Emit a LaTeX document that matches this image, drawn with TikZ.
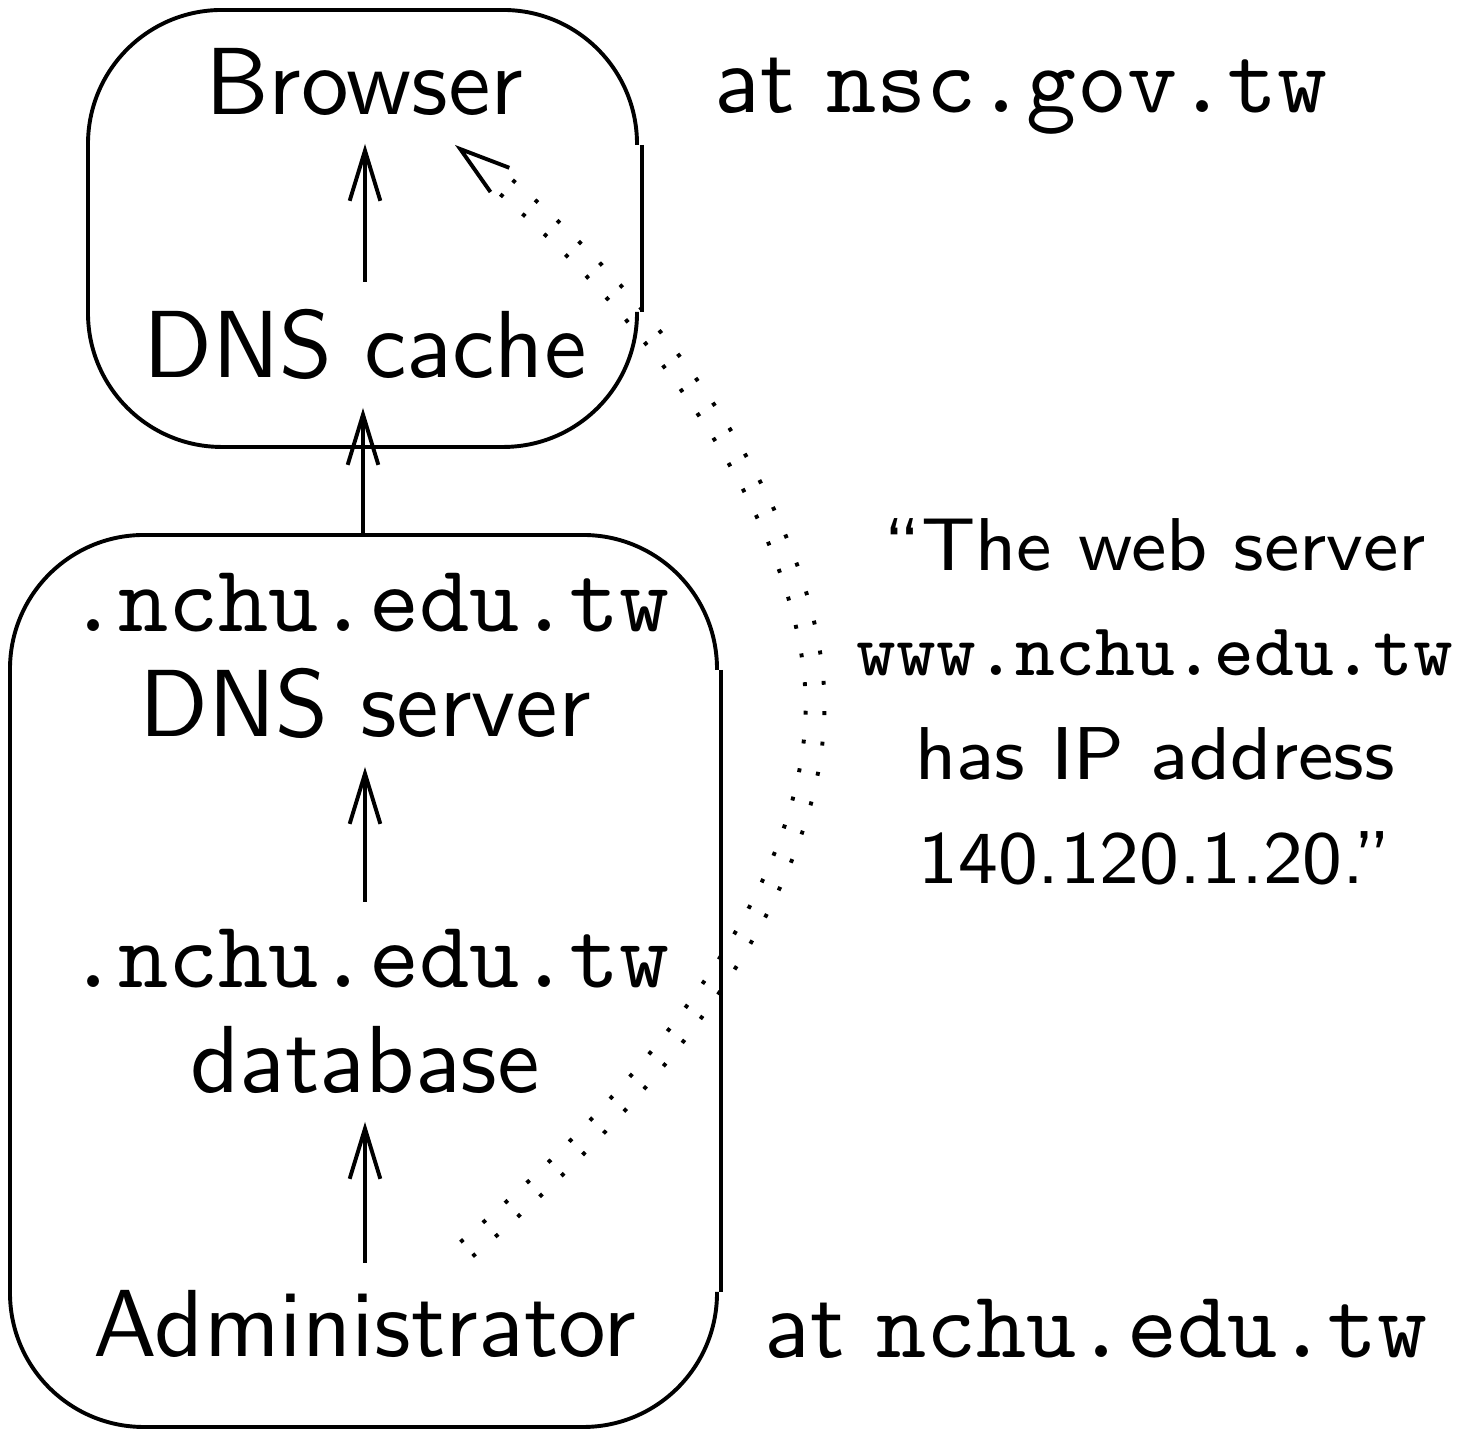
\documentclass[tikz,border=0pt]{standalone}
\usetikzlibrary{arrows.meta,calc,decorations.markings}
\begin{document}
\begin{tikzpicture}[x=0.10753pt, y=-0.10753pt,
    lbl/.style = {anchor=base, inner sep=2.8pt, font=\sffamily\fontsize{10.25}{12}\selectfont},
    tt/.style = {font=\ttfamily\fontsize{10.25}{12}\selectfont},
    frame/.style = {line width=0.42pt, rounded corners=14.4pt},
    up/.style = {line width=0.42pt, -{Straight Barb[length=5.4pt,width=3.3pt]}},
    rumor/.style = {postaction={decorate}, decoration={markings,
        mark=between positions 0 and -5pt step 3.2pt with
        {\fill (-0.21pt,0.8pt) rectangle (0.21pt,1.22pt) (-0.21pt,-1.22pt) rectangle (0.21pt,-0.8pt);}}}]
    \useasboundingbox (0,0) rectangle (1472,1429);

    % the claim travels from the administrator to the browser
    \coordinate (rsrc) at (468,1248);
    \coordinate (rtip) at (455,145);
    \path[rumor] (rsrc) .. controls (700,1050) and (818,860) .. (815,700)
        .. controls (812,540) and (680,320) .. (rtip);
    \draw[up] ($(rtip)!1pt!(680,320)$) -- (rtip);

    % the two machines
    \draw[frame] (637,145) -- (637,10) -- (88,10) -- (88,447) -- (637,447) -- (637,312);
    \draw[frame] (642,145) -- (642,312);
    \draw[frame] (717,670) -- (717,535) -- (10,535) -- (10,1427) -- (717,1427) -- (717,1292);
    \draw[frame] (721,670) -- (721,1292);
    \coordinate (nchutop) at (363,535);

    \node[lbl] (browser) at (364,115) {Browser};
    \node[lbl] (cache) at (365,378) {DNS cache};
    \node[lbl, tt] (srvname) at (369,632) {.nchu.edu.tw};
    \node[lbl] (server) at (365,737) {DNS server};
    \node[lbl, tt] (dbname) at (369,988) {.nchu.edu.tw};
    \node[lbl] (db) at (365,1093) {database};
    \node[lbl] (admin) at (365,1357) {Administrator};

    \node[lbl] (atgov) at (1021,113) {at \texttt{nsc.gov.tw}};
    \node[lbl] (atnchu) at (1096,1358) {at \texttt{nchu.edu.tw}};
    \node[align=center, inner sep=0pt, font=\sffamily\fontsize{8.05}{11.2}\selectfont] (claim) at (1155,702)
        {“The web server\\ \texttt{www.nchu.edu.tw}\\ has IP address\\ 140.120.1.20.”};

    % lookups go upward
    \draw[up] (cache) -- (cache |- browser.south);
    \draw[up] (nchutop) -- (nchutop |- cache.south);
    \draw[up] (dbname.north -| server) -- (server);
    \draw[up] (admin) -- (admin |- db.south);
\end{tikzpicture}
\end{document}
